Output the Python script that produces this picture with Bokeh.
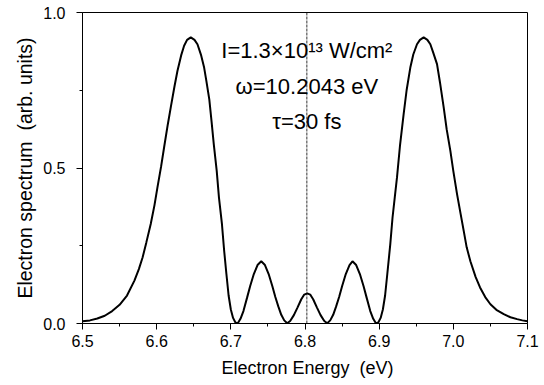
from bokeh.plotting import figure
from bokeh.models import Label, Span, FixedTicker, Title
from bokeh.embed import file_html
from bokeh.resources import INLINE

# ---- data ----
energy = [
    6.500, 6.510, 6.520, 6.530, 6.540, 6.550, 6.560, 6.570, 6.576, 6.581,
    6.586, 6.592, 6.597, 6.601, 6.606, 6.610, 6.615, 6.619, 6.624, 6.628,
    6.633, 6.637, 6.641, 6.646, 6.651, 6.655, 6.660, 6.664, 6.667, 6.671,
    6.674, 6.677, 6.681, 6.684, 6.688, 6.691, 6.694, 6.697, 6.700, 6.703,
    6.706, 6.708, 6.710, 6.713, 6.717, 6.722, 6.726, 6.731, 6.736, 6.741,
    6.746, 6.751, 6.756, 6.760, 6.764, 6.768, 6.772, 6.776, 6.780, 6.785,
    6.790, 6.795, 6.799, 6.803, 6.807, 6.811, 6.816, 6.821, 6.826, 6.830,
    6.834, 6.838, 6.842, 6.846, 6.850, 6.855, 6.860, 6.864, 6.869, 6.874,
    6.879, 6.883, 6.888, 6.892, 6.895, 6.897, 6.899, 6.902, 6.905, 6.908,
    6.911, 6.915, 6.918, 6.921, 6.924, 6.928, 6.933, 6.937, 6.942, 6.946,
    6.951, 6.955, 6.960, 6.965, 6.969, 6.973, 6.978, 6.982, 6.987, 6.991,
    6.996, 7.000, 7.005, 7.010, 7.014, 7.018, 7.023, 7.030, 7.036, 7.043,
    7.050, 7.058, 7.068, 7.077, 7.086, 7.093, 7.100,
]
spectrum = [
    0.007, 0.010, 0.016, 0.025, 0.040, 0.060, 0.090, 0.138, 0.175, 0.212,
    0.260, 0.320, 0.380, 0.437, 0.505, 0.566, 0.640, 0.695, 0.762, 0.812,
    0.862, 0.893, 0.912, 0.920, 0.912, 0.898, 0.862, 0.823, 0.780, 0.720,
    0.650, 0.577, 0.490, 0.405, 0.320, 0.234, 0.160, 0.090, 0.045, 0.018,
    0.004, 0.001, 0.003, 0.015, 0.040, 0.084, 0.120, 0.159, 0.188, 0.200,
    0.188, 0.159, 0.120, 0.085, 0.055, 0.028, 0.010, 0.001, 0.008, 0.027,
    0.052, 0.078, 0.093, 0.097, 0.093, 0.078, 0.052, 0.027, 0.008, 0.001,
    0.010, 0.028, 0.055, 0.085, 0.120, 0.159, 0.188, 0.200, 0.188, 0.159,
    0.120, 0.084, 0.040, 0.015, 0.003, 0.001, 0.004, 0.018, 0.045, 0.090,
    0.160, 0.255, 0.340, 0.405, 0.469, 0.570, 0.673, 0.750, 0.823, 0.865,
    0.898, 0.912, 0.920, 0.912, 0.898, 0.870, 0.834, 0.775, 0.695, 0.625,
    0.555, 0.490, 0.416, 0.350, 0.298, 0.245, 0.200, 0.150, 0.116, 0.085,
    0.062, 0.044, 0.030, 0.020, 0.014, 0.010, 0.007,
]
resonance_energy = 6.8025

x_ticks = [6.5, 6.6, 6.7, 6.8, 6.9, 7.0, 7.1]
x_tick_labels = ["6.5", "6.6", "6.7", "6.8", "6.9", "7.0", "7.1"]
x_minor_ticks = [6.55, 6.65, 6.75, 6.85, 6.95, 7.05]
y_ticks = [0.0, 0.5, 1.0]
y_tick_labels = ["0.0", "0.5", "1.0"]
y_minor_ticks = [0.25, 0.75]

annotation_lines = ["I=1.3\u00d710\u00b9\u00b3 W/cm\u00b2", "\u03c9=10.2043 eV", "\u03c4=30 fs"]
x_title = "\u00a0Electron Energy \u00a0(eV)"
y_title = "Electron spectrum \u00a0(arb. units)"

FONT = "Liberation Sans"

p = figure(width=544, height=385, x_range=(6.5, 7.1), y_range=(0.0, 1.0),
           output_backend="svg", toolbar_location=None,
           min_border_left=82, min_border_right=17, min_border_top=12, min_border_bottom=62)

p.background_fill_color = "white"
p.border_fill_color = "white"
p.outline_line_color = "black"
p.outline_line_width = 1
p.xgrid.visible = False
p.ygrid.visible = False

for ax, ticks, minors, labels in ((p.xaxis[0], x_ticks, x_minor_ticks, x_tick_labels),
                                  (p.yaxis[0], y_ticks, y_minor_ticks, y_tick_labels)):
    ax.ticker = FixedTicker(ticks=ticks, minor_ticks=minors)
    ax.major_label_overrides = {t: l for t, l in zip(ticks, labels)}
    ax.axis_line_color = "black"
    ax.axis_line_width = 1
    ax.major_tick_line_color = "black"
    ax.minor_tick_line_color = "black"
    ax.major_tick_in = 0
    ax.major_tick_out = 6
    ax.minor_tick_in = 0
    ax.minor_tick_out = 3
    ax.major_label_text_font = FONT
    ax.major_label_text_font_size = "16px"
    ax.major_label_text_color = "black"
    ax.axis_label_text_font = FONT
    ax.axis_label_text_font_style = "normal"
    ax.axis_label_text_color = "black"

p.xaxis.major_label_standoff = 5
p.yaxis.major_label_standoff = 11

p.xaxis.axis_label = x_title
p.xaxis.axis_label_text_font_size = "18px"
p.xaxis.axis_label_standoff = 8

# y title as a side title, shifted down like the reference
p.add_layout(Title(text=y_title, align="center", offset=-37, standoff=9,
                   text_font=FONT, text_font_size="19.5px", text_font_style="normal",
                   text_color="black"), "left")

p.add_layout(Span(location=resonance_energy, dimension="height", line_color="black",
                  line_width=0.8, line_dash="3 1"))

p.line(energy, spectrum, line_color="black", line_width=2)

for i, txt in enumerate(annotation_lines):
    p.add_layout(Label(x=resonance_energy, y=0.877 - i * 0.1135, text=txt,
                       text_font=FONT, text_font_size="22px", text_color="black",
                       text_align="center", text_baseline="alphabetic"))

open("out.html", "w").write(file_html(p, INLINE))
